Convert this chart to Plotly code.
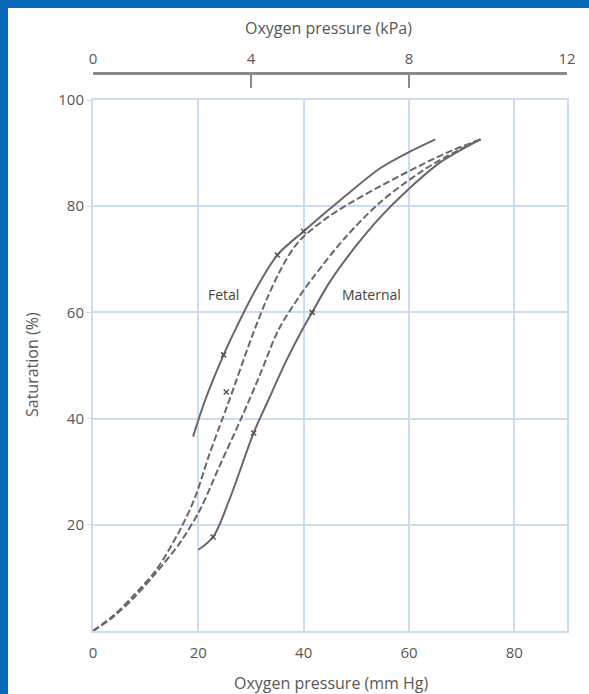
import plotly.graph_objects as go

# ---------------- data ----------------
fetal_solid_x = [19, 21.3, 24.8, 27, 31, 35, 40, 47.5, 54.6, 60, 65]
fetal_solid_y = [36.6, 43.5, 52, 56.7, 64.5, 70.8, 75.3, 81.6, 87.2, 90.2, 92.6]

fetal_dashed_x = [0, 4, 8, 12, 16.5, 19.4, 22, 24.7, 26, 30.2, 33, 35.6, 38, 40, 44, 47, 54.6, 62, 67, 73.6]
fetal_dashed_y = [0, 3, 7, 11.5, 19, 25.2, 33, 40.3, 43.8, 55.5, 62.5, 68, 72, 74.3, 77.5, 79.5, 83.8, 87.6, 90, 92.6]

maternal_dashed_x = [0, 4, 8, 12, 16.5, 20.3, 24, 28.3, 31.8, 35.2, 38.5, 41.5, 48, 54.6, 62, 67, 73.6]
maternal_dashed_y = [0, 2.8, 6.5, 11, 16.6, 22.8, 31, 40.4, 48.5, 56.7, 62, 66.2, 74.2, 80.8, 86.3, 89.3, 92.6]

maternal_solid_x = [20, 22.8, 26, 30.5, 33.3, 36.5, 39.7, 41.6, 45, 50, 54.6, 60, 66, 73.6]
maternal_solid_y = [15.3, 17.7, 25, 37.3, 43.5, 50.5, 56.7, 60, 65.8, 72.6, 78, 83.3, 88.3, 92.6]

marker_x = [24.8, 35, 40, 25.3, 22.8, 30.5, 41.6]
marker_y = [52, 70.8, 75.3, 45, 17.7, 37.3, 60]

x_ticks_mmhg = [0, 20, 40, 60, 80]
x_ticks_kpa = [0, 4, 8, 12]
y_ticks = [20, 40, 60, 80, 100]
MMHG_PER_KPA = 7.5

curve_labels = ["Fetal", "Maternal"]
label_x = [24.7, 52.9]
label_y = [63.3, 63.3]

x_title_bottom = "Oxygen pressure (mm Hg)"
x_title_top = "Oxygen pressure (kPa)"
y_title = "Saturation (%)"

# ---------------- layout constants ----------------
W, H = 589, 694
ML, MR, MT, MB = 93, 22, 73, 63
PLOT_W = W - ML - MR
PLOT_H = H - MT - MB
Y_TOP_PX = 100  # pixel row of the 100% line
ydom_top = (H - MB - Y_TOP_PX) / PLOT_H

def px_to_paper_x(px):
    return (px - ML) / PLOT_W

def py_to_paper_y(py):
    return (H - MB - py) / PLOT_H

FONT = "Open Sans"
LINE_COL = "#686868"
GRID_COL = "#cddcee"
TEXT_COL = "#575757"
TICK_SIZE = 15
TITLE_SIZE = 16
BLUE = "#0a69b6"

fig = go.Figure()

spline = dict(shape="spline", smoothing=0.9)
fig.add_trace(go.Scatter(x=fetal_solid_x, y=fetal_solid_y, mode="lines",
                         line=dict(color=LINE_COL, width=2, **spline),
                         showlegend=False, hoverinfo="skip"))
fig.add_trace(go.Scatter(x=fetal_dashed_x, y=fetal_dashed_y, mode="lines",
                         line=dict(color=LINE_COL, width=2, dash="7px,3px", **spline),
                         showlegend=False, hoverinfo="skip"))
fig.add_trace(go.Scatter(x=maternal_dashed_x, y=maternal_dashed_y, mode="lines",
                         line=dict(color=LINE_COL, width=2, dash="7px,3px", **spline),
                         showlegend=False, hoverinfo="skip"))
fig.add_trace(go.Scatter(x=maternal_solid_x, y=maternal_solid_y, mode="lines",
                         line=dict(color=LINE_COL, width=2, **spline),
                         showlegend=False, hoverinfo="skip"))
fig.add_trace(go.Scatter(x=marker_x, y=marker_y, mode="markers",
                         marker=dict(symbol="x-thin", size=5, line=dict(color="#555", width=1.5)),
                         showlegend=False, hoverinfo="skip"))
# invisible trace on the kPa axis so that the top axis is drawn
fig.add_trace(go.Scatter(x=[v / MMHG_PER_KPA for v in fetal_solid_x], y=fetal_solid_y,
                         xaxis="x2", mode="lines", opacity=0, line=dict(width=0),
                         showlegend=False, hoverinfo="skip"))

for t, lx, ly in zip(curve_labels, label_x, label_y):
    fig.add_annotation(x=lx, y=ly, text=t, showarrow=False,
                       font=dict(family=FONT, size=14, color="#444"))

# axis titles placed at the reference's pixel positions
title_font = dict(family=FONT, size=TITLE_SIZE, color=TEXT_COL)
fig.add_annotation(xref="paper", yref="paper", x=px_to_paper_x(331), y=py_to_paper_y(683),
                   text=x_title_bottom, showarrow=False, font=title_font,
                   xanchor="center", yanchor="middle")
fig.add_annotation(xref="paper", yref="paper", x=px_to_paper_x(328), y=py_to_paper_y(28),
                   text=x_title_top, showarrow=False, font=title_font,
                   xanchor="center", yanchor="middle")
fig.add_annotation(xref="paper", yref="paper", x=px_to_paper_x(32), y=py_to_paper_y(364),
                   text=y_title, showarrow=False, font=title_font, textangle=-90,
                   xanchor="center", yanchor="middle")

fig.update_layout(
    width=W, height=H,
    margin=dict(l=ML, r=MR, t=MT, b=MB, pad=0, autoexpand=False),
    paper_bgcolor=BLUE, plot_bgcolor="white",
    font=dict(family=FONT, color=TEXT_COL),
    xaxis=dict(range=[0, 90], tickvals=x_ticks_mmhg, ticks="", showgrid=True, automargin=False,
               gridcolor=GRID_COL, gridwidth=2, zeroline=False,
               showline=True, linecolor=GRID_COL, linewidth=2, mirror=True,
               tickfont=dict(size=TICK_SIZE, color=TEXT_COL), ticklabelstandoff=7),
    yaxis=dict(range=[0, 100], domain=[0, ydom_top], tickvals=y_ticks, ticks="outside",
               automargin=False, ticklen=4, tickcolor=GRID_COL, showgrid=True,
               gridcolor=GRID_COL, gridwidth=2,
               zeroline=False, showline=True, linecolor=GRID_COL, linewidth=2, mirror=True,
               tickfont=dict(size=TICK_SIZE, color=TEXT_COL), ticklabelstandoff=0),
    xaxis2=dict(range=[0, 12], tickvals=x_ticks_kpa, overlaying="x", side="top",
                anchor="free", position=1, ticks="inside", ticklen=13, tickwidth=2,
                automargin=False, tickcolor="#8a8a8a", showline=True, linecolor="#8a8a8a",
                linewidth=3, showgrid=False, zeroline=False,
                tickfont=dict(size=TICK_SIZE, color=TEXT_COL), ticklabelstandoff=2),
)

# white page area inside the blue frame (blue shows only along the top and left edges)
fig.add_shape(type="rect", xref="paper", yref="paper", layer="below",
              x0=px_to_paper_x(8), x1=px_to_paper_x(W + 2), y0=py_to_paper_y(H + 2), y1=py_to_paper_y(8),
              fillcolor="white", line=dict(width=0))
# top blue band drawn above everything as well
fig.add_shape(type="rect", xref="paper", yref="paper", layer="above",
              x0=px_to_paper_x(0), x1=px_to_paper_x(W), y0=py_to_paper_y(8), y1=py_to_paper_y(0),
              fillcolor=BLUE, line=dict(width=0))

# remove the browser's default 8px body margin so the figure sits at the window origin
fig.write_html("out.html", config={"displayModeBar": False},
               post_script="document.body.style.margin='0';document.body.style.overflow='hidden';window.scrollTo(0,0);")
